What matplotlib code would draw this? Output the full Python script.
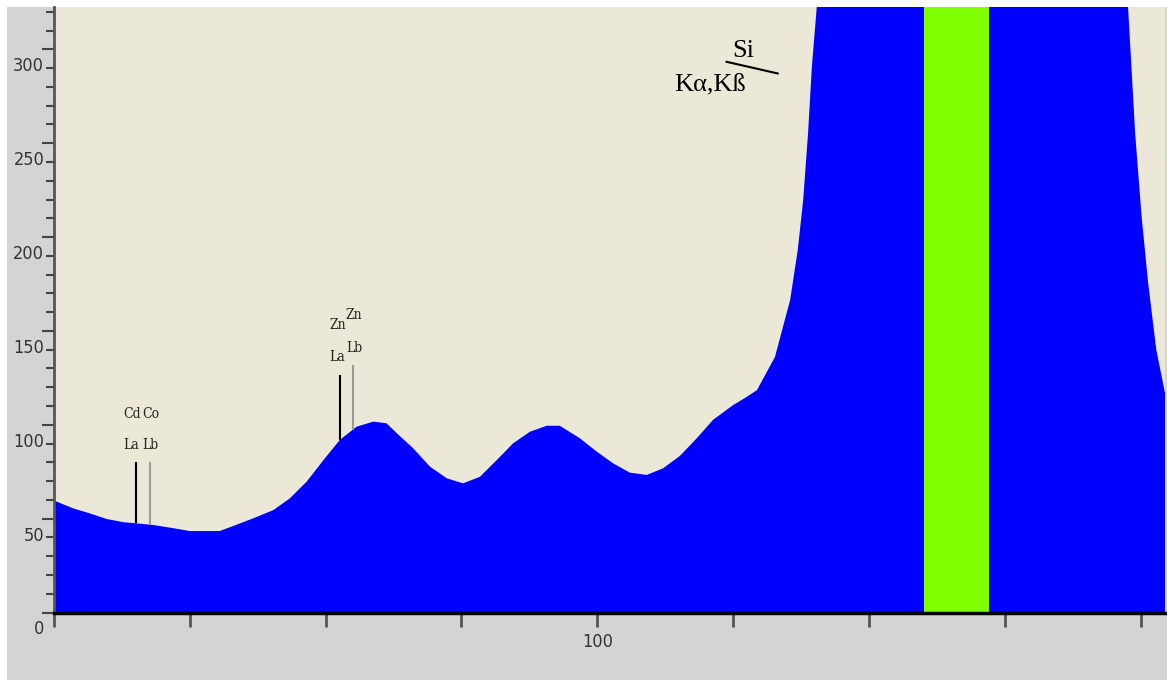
import matplotlib
matplotlib.use("Agg")
import matplotlib.pyplot as plt
import matplotlib.transforms as mtrans
from matplotlib.patches import Rectangle
from matplotlib.ticker import FixedLocator, FixedFormatter, MultipleLocator
import numpy as np

# spectrum (channel, counts); values above the top are clipped
energy = [0, 0.2, 3.5, 6.6, 9.7, 12.8, 15.2, 18.3, 22.0, 25.0, 30.5, 33.0, 36.7,
          40.4, 43.4, 46.5, 49.6, 52.6, 55.7, 58.8, 61.2, 63.1, 66.1, 69.2, 72.3,
          75.3, 78.4, 81.5, 84.5, 87.6, 90.7, 93.1, 96.8, 99.9, 102.9, 106.0,
          109.1, 112.1, 115.2, 118.3, 121.3, 125.0, 127.2, 129.4, 132.7, 135.5,
          136.9, 137.9, 138.8, 139.5, 140.4, 142, 145, 150, 160, 172, 185, 192,
          195, 197.7, 199.0, 200.2, 201.4, 202.9, 204.5]
counts = [60, 59.4, 55.5, 52.8, 49.8, 48.1, 47.5, 46.6, 44.9, 43.4, 43.4, 46.1,
          50.2, 54.6, 60.8, 69.7, 81.2, 91.9, 99.0, 101.7, 100.8, 95.5, 87.5,
          77.7, 71.5, 68.8, 72.3, 81.2, 90.1, 96.3, 99.5, 99.5, 92.8, 85.7, 79.5,
          74.5, 73.3, 76.8, 83.4, 92.8, 102.6, 110.5, 114.3, 118.5, 136.1, 166.5,
          193.1, 219.7, 255.4, 290.8, 322.6, 380, 460, 540, 600, 600, 540, 520,
          450, 322.6, 255.5, 210.7, 175.5, 139.9, 116.9]

# selected region (Si window)
roi_start = 160.1
roi_end = 172.1

# peak markers: name, line, channel, top of marker line, line colour
marker_names = ["Cd", "Co", "Zn", "Zn"]
marker_lines = ["La", "Lb", "La", "Lb"]
marker_pos = [15.1, 17.7, 52.6, 55.0]
marker_top = [80.2, 80.2, 126.5, 131.9]
marker_colors = ["#000000", "#9a9a9a", "#000000", "#9a9a9a"]
marker_name_xy = [(14.3, 105.8), (17.8, 105.8), (52.2, 153.2), (55.1, 158.5)]
marker_line_xy = [(14.2, 89.2), (17.7, 89.2), (52.2, 136.1), (55.2, 140.9)]

y_ticks = [0, 50, 100, 150, 200, 250, 300]
x_ticks = [0, 25, 50, 75, 100, 125, 150, 175, 200]
x_tick_labels = ["", "", "", "", "100", "", "", "", ""]

fig = plt.figure(figsize=(11.67, 6.83), dpi=100, facecolor="white")
fig.patches.append(Rectangle((7 / 1167, 3 / 683), 1160 / 1167, 673 / 683,
                             transform=fig.transFigure, facecolor="#d4d4d4",
                             edgecolor="none", zorder=0))

ax = fig.add_axes([54 / 1167, 70.5 / 683, 1111 / 1167, 605.5 / 683])
ax.set_zorder(2)
ax.set_facecolor("#ebe8d8")

ax.fill_between(energy, counts, 0, color="#0000ff", lw=0, zorder=2)
ax.axvspan(roi_start, roi_end, color="#80ff00", lw=0, zorder=3)

for i in range(len(marker_pos)):
    base = np.interp(marker_pos[i], energy, counts)
    ax.vlines(marker_pos[i], base, marker_top[i], color=marker_colors[i], lw=1.5, zorder=4)
    ax.text(*marker_name_xy[i], marker_names[i], family="DejaVu Serif",
            fontstretch="condensed", fontsize=10,
            ha="center", va="center", color="#222222", zorder=5)
    ax.text(*marker_line_xy[i], marker_lines[i], family="DejaVu Serif",
            fontstretch="condensed", fontsize=10,
            ha="center", va="center", color="#222222", zorder=5)

# Si label with its leader line
ax.text(126.8, 299.2, "Si", family="Liberation Serif", fontsize=19,
        ha="center", va="center", zorder=5)
ax.text(120.8, 281.0, "K\u03b1,K\u00df", family="Liberation Serif", fontsize=19,
        ha="center", va="center", zorder=5)
ax.plot([123.8, 133.2], [293.4, 287.2], color="black", lw=1.5, zorder=5)

ax.set_xlim(0, 204.5)
ax.set_ylim(0, 322.6)

ax.xaxis.set_major_locator(FixedLocator(x_ticks))
ax.xaxis.set_major_formatter(FixedFormatter(x_tick_labels))
ax.yaxis.set_major_locator(FixedLocator(y_ticks))
ax.yaxis.set_minor_locator(MultipleLocator(10))

ax.tick_params(axis="x", direction="out", length=10, width=2, color="#555555",
               pad=5, labelsize=13, labelcolor="#333333")
ax.tick_params(axis="y", which="major", direction="out", length=9, width=1.5,
               color="#444444", pad=-2, labelsize=13, labelcolor="#333333")
ax.tick_params(axis="y", which="minor", direction="out", length=6, width=1.5,
               color="#444444")
for lab in ax.get_xticklabels() + ax.get_yticklabels():
    lab.set_family("DejaVu Sans")
    lab.set_fontstretch("condensed")

# y labels sit a little below their ticks in the original
shift = mtrans.ScaledTranslation(0, -0.15, fig.dpi_scale_trans)
for lab in ax.get_yticklabels():
    lab.set_transform(lab.get_transform() + shift)

for side in ["top", "right"]:
    ax.spines[side].set_visible(False)
ax.spines["left"].set_color("#555555")
ax.spines["left"].set_linewidth(2)
ax.spines["bottom"].set_color("#000000")
ax.spines["bottom"].set_linewidth(2.5)
ax.spines["bottom"].set_zorder(6)

fig.savefig("out.png", dpi=100, facecolor=fig.get_facecolor())
